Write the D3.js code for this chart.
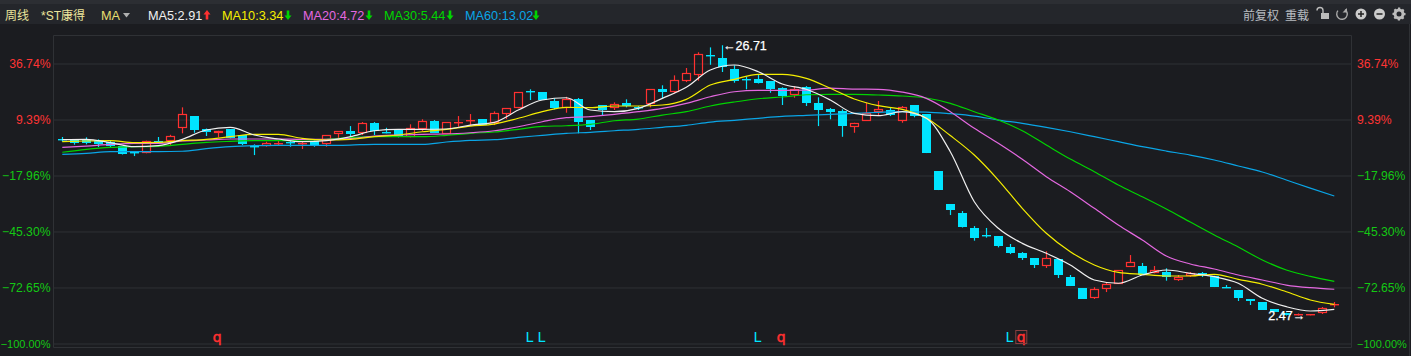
<!DOCTYPE html>
<html><head><meta charset="utf-8">
<script src="https://cdnjs.cloudflare.com/ajax/libs/d3/7.8.5/d3.min.js"></script>
<style>
html,body{margin:0;padding:0;background:#1b1c20;overflow:hidden}
svg{display:block}
text{font-family:"Liberation Sans","Noto Sans CJK SC",sans-serif}
</style></head><body><svg id="c" width="1411" height="356"></svg>
<script>
const pctTicks=[36.74,9.39,-17.96,-45.30,-72.65,-100.00];
const basePrice=18.37;
const opens=[18.30,18.21,18.21,18.15,18.06,17.67,17.16,17.02,18.09,18.15,19.26,20.36,19.17,18.86,19.17,18.66,17.70,17.70,17.92,17.99,17.89,18.12,17.82,18.72,19.02,18.81,19.71,18.93,19.13,18.50,19.20,19.89,18.77,19.78,19.91,20.07,19.71,20.54,21.05,22.60,22.49,21.71,21.05,21.89,20.00,21.32,21.05,21.50,21.17,21.44,22.78,22.54,23.53,24.07,25.86,25.56,24.55,23.71,23.65,23.47,22.85,22.22,22.94,21.50,20.96,20.78,19.35,19.94,20.75,20.90,19.94,21.35,20.54,15.43,12.47,11.66,10.32,9.66,9.60,8.61,8.07,7.62,6.93,7.53,5.92,4.93,4.06,4.82,5.32,6.84,6.88,6.25,6.34,5.62,6.01,6.25,6.04,5.02,4.75,3.92,3.68,3.05,2.72,2.51,2.50,2.72,3.41];
const closes=[18.24,17.97,17.97,17.82,17.70,16.98,17.11,18.15,17.97,18.54,20.51,19.11,18.93,19.04,18.36,17.85,17.65,17.91,17.97,17.91,17.94,17.76,18.63,18.99,18.75,19.71,19.04,18.87,18.45,19.31,19.89,18.86,19.80,19.87,19.98,19.58,20.60,21.05,22.49,22.55,21.80,21.08,21.91,19.82,19.38,20.87,21.41,21.26,21.12,22.76,22.51,23.56,24.19,25.90,25.81,24.73,23.53,23.65,23.32,22.78,22.16,22.81,21.56,20.90,20.72,19.46,19.76,20.60,20.96,20.42,21.14,20.36,17.07,13.72,11.93,10.43,9.45,9.61,8.73,8.10,7.65,7.00,7.60,6.13,5.11,3.95,4.82,5.27,6.52,7.24,6.10,6.59,5.89,5.89,6.25,6.07,5.02,4.93,4.06,3.77,2.96,2.78,2.50,2.56,2.56,3.17,3.46];
const highs=[18.48,18.25,18.45,18.27,18.12,17.67,17.22,18.15,18.48,18.68,21.14,20.36,19.24,19.04,19.17,18.66,17.82,18.06,18.12,18.21,18.12,18.16,18.63,18.99,19.46,19.82,19.82,19.31,19.13,19.62,20.07,20.00,19.80,20.36,20.54,20.07,20.78,21.05,22.49,22.76,22.49,21.95,22.09,21.98,20.00,21.32,21.59,21.86,21.26,22.76,23.12,24.01,24.67,26.08,26.52,26.71,24.91,23.89,24.04,23.47,22.94,23.05,23.05,22.04,21.08,20.96,19.76,21.56,21.71,21.14,21.26,21.35,20.54,15.43,12.47,11.84,10.49,10.32,9.60,8.88,8.16,7.62,8.23,7.53,6.10,4.93,5.00,5.41,6.52,7.89,7.18,6.91,6.70,6.10,6.37,6.37,6.04,5.20,4.75,3.92,3.68,3.05,2.72,2.65,2.58,3.23,3.68];
const lows=[18.06,17.79,17.82,17.58,17.58,16.91,16.77,17.02,17.94,17.67,18.81,18.86,18.57,18.45,18.36,17.76,16.86,17.61,17.73,17.61,17.40,17.61,17.61,18.36,18.57,18.66,18.66,18.81,18.45,18.45,19.02,18.86,18.77,19.40,19.55,19.58,19.55,20.09,21.05,21.80,21.80,20.96,20.66,18.81,19.11,20.39,20.90,21.14,20.90,21.14,21.95,22.40,23.41,23.53,24.96,24.31,23.35,22.76,23.28,22.45,21.35,22.00,21.26,19.46,20.07,18.50,18.86,19.94,20.36,20.36,19.76,20.25,17.04,13.72,11.48,10.36,9.18,9.45,8.58,7.98,7.45,6.73,6.73,5.83,5.11,3.95,3.95,4.57,5.32,6.84,6.10,6.25,5.59,5.56,5.92,5.92,5.02,4.93,3.77,3.41,2.96,2.78,2.47,2.47,2.48,2.60,3.20];
const maWeeks=d3.range(0,107,2);
const ma5=[18.24,18.27,17.97,17.61,17.70,18.27,19.11,19.35,18.66,18.30,18.06,18.15,18.51,19.04,19.17,19.17,19.20,19.55,19.80,20.90,21.80,22.00,20.90,20.75,21.05,21.95,22.94,24.49,24.94,24.34,23.23,22.76,21.80,20.60,20.39,20.75,20.16,17.16,12.67,10.29,8.94,8.05,7.00,5.65,5.36,6.10,6.55,6.25,5.95,5.36,4.01,3.26,2.87,3.02];
const ma10=[18.06,18.12,18.15,17.97,18.00,18.15,18.27,18.51,18.72,18.72,18.36,18.21,18.27,18.51,18.66,18.95,19.17,19.46,19.64,20.16,20.75,21.14,21.11,21.26,21.26,21.35,21.86,23.14,23.65,24.10,24.10,23.74,22.85,21.89,21.29,20.96,20.18,18.61,16.86,14.62,12.08,9.84,8.19,7.00,6.34,6.16,6.01,6.01,6.16,5.71,5.27,4.60,3.86,3.47];
const ma20=[17.55,17.67,17.82,17.91,17.91,18.12,18.21,18.30,18.30,18.30,18.27,18.27,18.33,18.57,18.66,18.72,18.75,18.86,19.04,19.40,19.85,20.21,20.30,20.51,20.75,21.05,21.50,22.09,22.54,22.67,22.67,22.69,22.87,22.78,22.76,22.51,21.95,20.75,19.26,17.91,16.48,14.92,13.57,12.08,10.58,9.24,7.80,7.09,6.64,6.10,5.65,5.20,4.96,4.82];
const ma30=[17.11,17.37,17.55,17.61,17.64,17.82,18.00,18.09,18.15,18.15,18.21,18.27,18.42,18.51,18.51,18.51,18.63,18.81,18.93,19.17,19.44,19.49,19.62,19.94,20.09,20.45,20.75,21.26,21.62,21.91,22.07,22.27,22.31,22.31,22.25,22.16,21.98,21.50,20.75,20.00,19.04,17.76,16.50,15.37,14.17,13.12,12.02,10.85,9.69,8.61,7.45,6.55,5.97,5.53];
const ma60=[16.93,17.02,17.16,17.16,17.16,17.20,17.43,17.61,17.70,17.73,17.73,17.73,17.76,17.82,17.82,17.82,18.03,18.18,18.24,18.45,18.63,18.81,18.90,19.04,19.17,19.35,19.53,19.82,19.98,20.16,20.33,20.42,20.51,20.60,20.69,20.75,20.72,20.57,20.36,20.00,19.71,19.35,18.95,18.51,18.06,17.61,17.22,16.86,16.42,15.88,15.34,14.62,13.90,13.19];
const maNames=["MA5:2.91","MA10:3.34","MA20:4.72","MA30:5.44","MA60:13.02"];
const maColors=["#f0f0f0","#f5ee00","#e468e0","#00d400","#0aa5e6"];
const maDirs=[1,-1,-1,-1,-1];
const markWeeks=[13,39,40,58,60,79,80];
const markLabels=["q","L","L","L","q","L","q"];

const svg=d3.select("#c");
const W=1411,H=356,RED="#ff3030",CY="#00e4ff",GRID="#2f3135";
const x=d3.scaleLinear().domain([0,106]).range([62.3,1334.3]);
const yPct=d3.scaleLinear().domain([-100,36.74]).range([343,63]);
const y=p=>yPct(p/basePrice*100-100);

// header
svg.append("rect").attr("width",W).attr("height",24).attr("y",0).attr("fill","#24262b");
svg.append("rect").attr("width",W).attr("height",4).attr("y",0).attr("fill","#2c2e33");
const hdr=(t,px,c,fs)=>svg.append("text").attr("x",px).attr("y",20).attr("fill",c).attr("font-size",fs||12.7).text(t);
hdr("周线",5,"#ece59c",12);hdr("*ST康得",41,"#ece59c",12);hdr("MA",101,"#e8df70");
svg.append("path").attr("d","M123 13h7l-3.5 4.5z").attr("fill","#b0b0b0");
const hx=[148,222,303,384,465], ax=[207,288,369,450,536];
maNames.forEach((n,i)=>{
  hdr(n,hx[i],maColors[i]);
  const c=maDirs[i]>0?"#ff3030":"#00d400",a=ax[i];
  svg.append("path").attr("fill",c).attr("d",maDirs[i]>0
    ?`M${a} 10l3.5 4.5h-2.2v5h-2.6v-5h-2.2z`:`M${a} 20l3.5 -4.5h-2.2v-5h-2.6v5h-2.2z`);
});
hdr("前复权",1243,"#b8bcc0",12);hdr("重载",1285,"#b8bcc0",12);
// icons
const ic=svg.append("g");
ic.append("rect").attr("x",1321).attr("y",13).attr("width",8).attr("height",6).attr("fill","#bbb");
ic.append("path").attr("d","M1323 13v-2.5a3 3 0 0 0-6 0").attr("fill","none").attr("stroke","#bbb").attr("stroke-width",1.4);
ic.append("path").attr("d",d3.arc()({innerRadius:4.6,outerRadius:6,startAngle:0.6,endAngle:5.4})).attr("transform","translate(1342,14)").attr("fill","#aaa");
ic.append("path").attr("d","M1347 8v4.5h-4.5z").attr("fill","#aaa");
[[1361,"+"],[1379.5,"-"]].forEach(([cx,s])=>{
  ic.append("circle").attr("cx",cx).attr("cy",14).attr("r",5.5).attr("fill","#ccc");
  ic.append("path").attr("d",s=="+"?`M${cx-3} 14h6M${cx} 11v6`:`M${cx-3} 14h6`).attr("stroke","#222").attr("stroke-width",1.5);
});
ic.append("circle").attr("cx",1399).attr("cy",14).attr("r",4).attr("fill","none").attr("stroke","#bbb").attr("stroke-width",3);
d3.range(8).forEach(k=>ic.append("rect").attr("x",1398).attr("y",7.5).attr("width",2.2).attr("height",2.5).attr("fill","#bbb").attr("transform",`rotate(${k*45} 1399 14)`));

// frame
svg.append("path").attr("d","M53 347V35H1351V347H53").attr("fill","none").attr("stroke",GRID).attr("stroke-width",1).attr("transform","translate(0.5,0.5)");
svg.append("path").attr("d","M1409.5 24V356").attr("stroke",GRID);

// axes
const fmt=d=>d3.format(".2f")(d)+"%";
const col=d=>d>0?"#ff3434":"#14c814";
const gridG=svg.append("g").attr("transform","translate(53.5,0.5)").call(d3.axisRight(yPct).tickValues(pctTicks).tickSize(1298).tickFormat(""));
gridG.select(".domain").remove();gridG.selectAll("line").attr("stroke",GRID);
[[d3.axisLeft(yPct),50.5],[d3.axisRight(yPct),1357]].forEach(([ax0,tx])=>{
  const g=svg.append("g").attr("transform",`translate(${tx},0.8)`).call(ax0.tickValues(pctTicks).tickSize(0).tickPadding(0).tickFormat(fmt));
  g.select(".domain").remove();
  g.selectAll("text").attr("fill",col).attr("font-size",d=>d===-100?11:12.2).style("font-family",'"Liberation Sans",sans-serif');
});

// candles
const idx=d3.range(opens.length),bw=9;
const cg=svg.append("g");
cg.selectAll("g").data(idx).join("g").each(function(i){
  const g=d3.select(this),up=closes[i]>=opens[i],c=up?RED:CY;
  const cx=Math.round(x(i))+0.5;
  const t=Math.round(y(Math.max(opens[i],closes[i]))),b=Math.round(y(Math.min(opens[i],closes[i])));
  const hi=y(highs[i]),lo=y(lows[i]);
  g.append("line").attr("x1",cx).attr("x2",cx).attr("y1",hi).attr("y2",t).attr("stroke",c).attr("stroke-width",1.2);
  g.append("line").attr("x1",cx).attr("x2",cx).attr("y1",b).attr("y2",lo).attr("stroke",c).attr("stroke-width",1.2);
  if(b-t<=1){
    g.append("rect").attr("x",cx-4.5).attr("y",t).attr("width",bw).attr("height",1.4).attr("fill",c);
  }else if(up){
    g.append("rect").attr("x",cx-4).attr("y",t+.5).attr("width",bw-1).attr("height",Math.max(b-t-1,1)).attr("fill","none").attr("stroke",c).attr("stroke-width",1.2);
  }else{
    g.append("rect").attr("x",cx-4.5).attr("y",t).attr("width",bw).attr("height",b-t).attr("fill",c);
  }
});

// moving averages
const line=d3.line().x((d,i)=>x(maWeeks[i])).y(d=>y(d)).curve(d3.curveMonotoneX);
[ma60,ma30,ma20,ma10,ma5].forEach((s,k)=>{
  svg.append("path").attr("d",line(s)).attr("fill","none").attr("stroke",maColors[4-k]).attr("stroke-width",1.2);
});

// peak / low labels
const ann=(t,px,py)=>svg.append("text").attr("x",px).attr("y",py).attr("fill","#fff").attr("font-size",12.5).attr("stroke","#fff").attr("stroke-width",.25).text(t);
ann("←26.71",x(55)+0.7,y(26.71)+5);
ann("2.47→",x(102)-18,y(2.47)+5);

// bottom markers
svg.append("g").selectAll("text").data(markWeeks).join("text")
 .attr("x",d=>x(d)-1).attr("y",342).attr("text-anchor","middle").attr("font-size",14)
 .attr("fill",(d,i)=>markLabels[i]=="q"?RED:CY)
 .attr("stroke",(d,i)=>markLabels[i]=="q"?RED:"none").attr("stroke-width",.5)
 .style("font-family",'"DejaVu Sans",sans-serif').text((d,i)=>markLabels[i]);
svg.append("rect").attr("x",x(80)-6.5).attr("y",330.5).attr("width",11).attr("height",13).attr("fill","none").attr("stroke","#8a4040");
</script></body></html>
